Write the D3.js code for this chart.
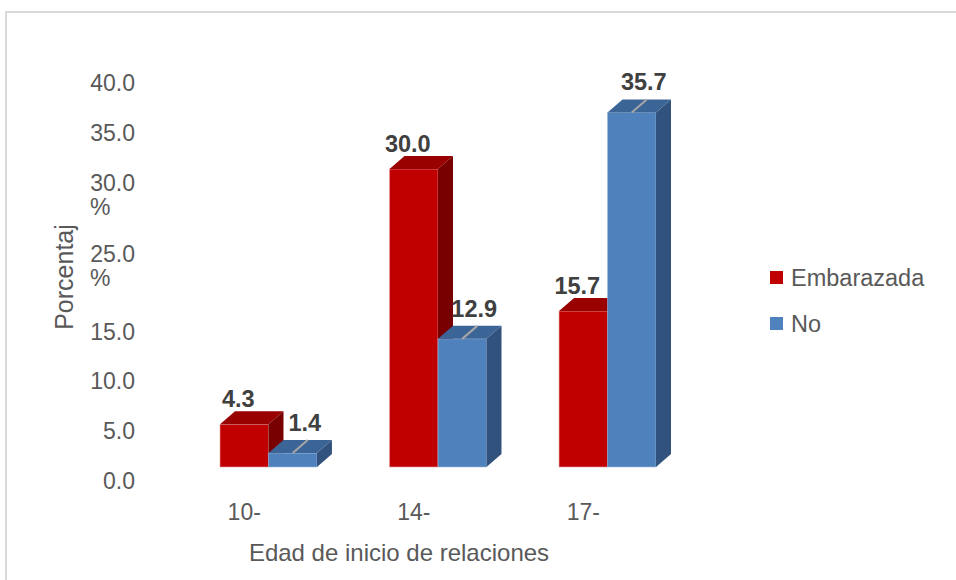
<!DOCTYPE html>
<html>
<head>
<meta charset="utf-8">
<script src="https://cdn.jsdelivr.net/npm/d3@7"></script>
<style>
  html, body { margin: 0; padding: 0; background: #fff; }
  svg { display: block; font-family: "Liberation Sans", Arial, sans-serif; }
</style>
</head>
<body>
<svg id="chart" width="956" height="580"></svg>
<script>
// Age at first relations vs. pregnancy status (percent)
const categories = ["10-", "14-", "17-"];
const seriesNames = ["Embarazada", "No"];
const embarazada = [4.3, 30.0, 15.7];
const noEmbarazada = [1.4, 12.9, 35.7];
const yTickValues = [0, 5, 10, 15, 25, 30, 35, 40];
const yTickLabels = ["0.0", "5.0", "10.0", "15.0", "25.0\n%", "30.0\n%", "35.0", "40.0"];
const yTitle = "Porcentaj";
const xTitle = "Edad de inicio de relaciones";

const palette = {
  "Embarazada": { front: "#c00000", top: "#990000", side: "#780000", edge: "#e8a0a0" },
  "No": { front: "#4f81bd", top: "#3c6597", side: "#31527c", edge: "#9db8da" }
};

const rows = categories.map((c, i) => ({
  cat: c,
  values: [
    { key: seriesNames[0], value: embarazada[i] },
    { key: seriesNames[1], value: noEmbarazada[i] }
  ]
}));

const svg = d3.select("#chart");

// chart frame
svg.append("rect")
  .attr("x", 6).attr("y", 12).attr("width", 1000).attr("height", 1000)
  .attr("fill", "none").attr("stroke", "#d9d9d9").attr("stroke-width", 2);

const baseY = 467;
const depthX = 15, depthY = 13;

const y = d3.scaleLinear().domain([0, 40]).range([baseY, 69.7]);
const x0 = d3.scaleBand().domain(categories).range([220, 656])
  .paddingInner(0.428).paddingOuter(0);
const x1 = d3.scaleBand().domain(seriesNames).range([0, x0.bandwidth()]);

// y axis labels (drawn on the back plane, offset by the depth)
const yAxis = d3.axisLeft(y)
  .tickValues(yTickValues)
  .tickSize(0)
  .tickPadding(0)
  .tickFormat((d, i) => yTickLabels[i]);

const gy = svg.append("g")
  .attr("transform", `translate(135,${depthY})`)
  .call(yAxis);
gy.select(".domain").remove();
gy.selectAll(".tick text")
  .attr("fill", "#595959")
  .attr("font-size", 23)
  .attr("font-family", "Liberation Sans, Arial, sans-serif")
  .each(function (d, i) {
    const lines = yTickLabels[i].split("\n");
    const t = d3.select(this).text(null).attr("dy", null);
    const shift = lines.length > 1 && d === 25 ? 22 : 0;
    lines.forEach((ln, k) => {
      t.append("tspan")
        .attr("x", ln === "%" ? -45 : 0)
        .attr("text-anchor", ln === "%" ? "start" : "end")
        .attr("y", shift)
        .attr("dy", (0.35 + k * 1.05) + "em")
        .text(ln);
    });
  });

// y title
svg.append("text")
  .attr("transform", "translate(73,277) rotate(-90)")
  .attr("text-anchor", "middle")
  .attr("font-size", 25)
  .attr("fill", "#595959")
  .text(yTitle);

// x category labels
svg.selectAll(".xlab")
  .data(categories)
  .enter().append("text")
  .attr("class", "xlab")
  .attr("x", d => x0(d) + x1(seriesNames[0]) + x1.bandwidth() / 2)
  .attr("y", 520)
  .attr("text-anchor", "middle")
  .attr("font-size", 23)
  .attr("fill", "#595959")
  .text(d => d);

// x title
svg.append("text")
  .attr("x", 399).attr("y", 561)
  .attr("text-anchor", "middle")
  .attr("font-size", 24)
  .attr("fill", "#595959")
  .text(xTitle);

// 3D bars
const groups = svg.selectAll(".grp")
  .data(rows)
  .enter().append("g")
  .attr("class", "grp")
  .attr("transform", d => `translate(${x0(d.cat)},0)`);

groups.each(function (row) {
  const g = d3.select(this);
  row.values.forEach(v => {
    const c = palette[v.key];
    const bx = x1(v.key), w = x1.bandwidth();
    const yt = y(v.value);
    g.append("rect")
      .attr("x", bx).attr("y", yt)
      .attr("width", w).attr("height", baseY - yt)
      .attr("fill", c.front)
      .attr("stroke", c.edge).attr("stroke-width", 0.6);
    g.append("path")
      .attr("d", `M${bx},${yt}L${bx + depthX},${yt - depthY}L${bx + w + depthX},${yt - depthY}L${bx + w},${yt}Z`)
      .attr("fill", c.top);
    g.append("path")
      .attr("d", `M${bx + w},${yt}L${bx + w + depthX},${yt - depthY}L${bx + w + depthX},${baseY - depthY}L${bx + w},${baseY}Z`)
      .attr("fill", c.side);
  });
});

// value labels
groups.each(function (row) {
  const g = d3.select(this);
  row.values.forEach((v, k) => {
    const bx = x1(v.key), w = x1.bandwidth();
    const cx = bx + w / 2;
    const yt = y(v.value);
    if (k === 1) {
      g.append("line")
        .attr("x1", cx).attr("y1", yt)
        .attr("x2", cx + depthX).attr("y2", yt - depthY)
        .attr("stroke", "#a6a6a6").attr("stroke-width", 2);
    }
    g.append("text")
      .attr("x", k === 0 ? cx - 6 : cx + 12)
      .attr("y", yt - depthY - (k === 0 ? 4 : 9))
      .attr("text-anchor", "middle")
      .attr("font-size", 23.5)
      .attr("font-weight", "bold")
      .attr("fill", "#404040")
      .text(d3.format(".1f")(v.value));
  });
});

// legend
const legend = svg.append("g").attr("transform", "translate(770,271)");
seriesNames.forEach((s, i) => {
  const row = legend.append("g").attr("transform", `translate(0,${i * 46})`);
  row.append("rect").attr("width", 13).attr("height", 13).attr("fill", palette[s].front);
  row.append("text")
    .attr("x", 21).attr("y", 7)
    .attr("dy", "0.35em")
    .attr("font-size", 23.5)
    .attr("fill", "#595959")
    .text(s);
});
</script>
</body>
</html>
